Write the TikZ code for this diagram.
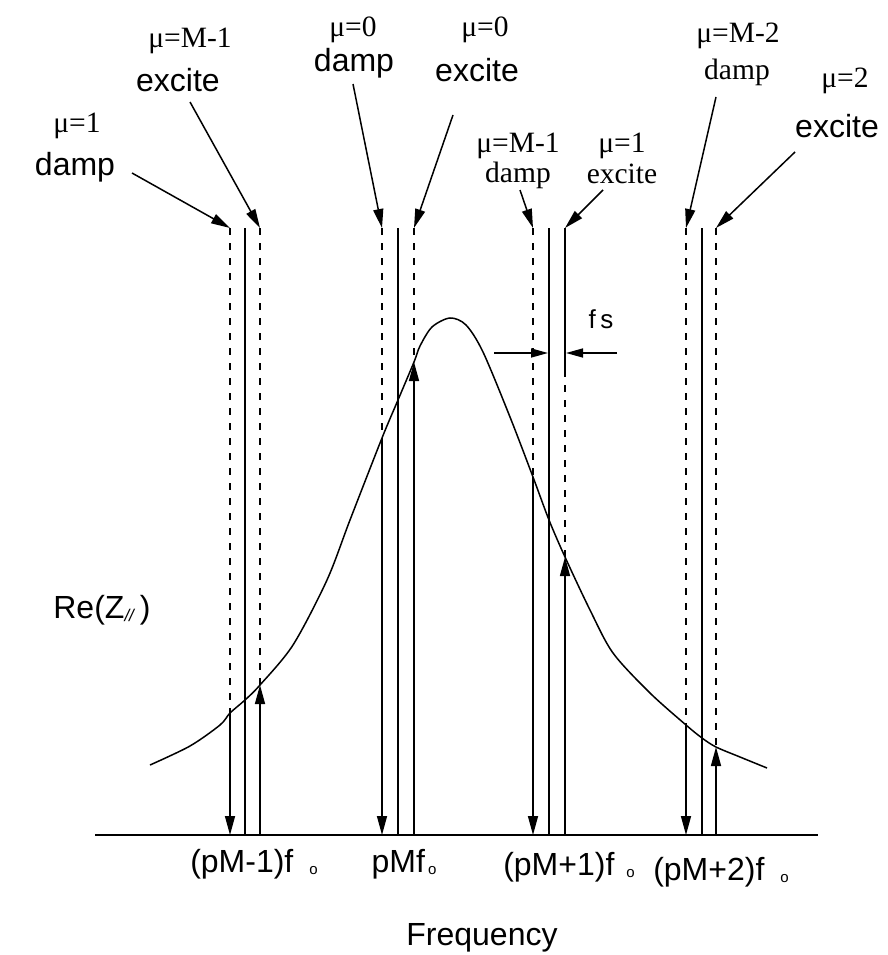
\documentclass[tikz,border=0pt]{standalone}
\usepackage{fontspec}
\setmainfont{Liberation Serif}
\setsansfont{Liberation Sans}
\usetikzlibrary{arrows.meta}
\tikzset{
  ln/.style={line width=1.5pt},
  axisln/.style={line width=1.8pt},
  dsh/.style={line width=2.1pt, dash pattern=on 7pt off 8pt},
  tipd/.style={-{Triangle[length=19pt,width=10pt]}},
  tipf/.style={-{Triangle[length=17pt,width=9pt]}},
  sflab/.style={font=\sffamily\fontsize{32}{35}\selectfont, inner sep=0pt, anchor=base},
  rmlab/.style={font=\fontsize{29.5}{32}\selectfont, inner sep=0pt, anchor=base},
}
\newcommand{\subo}{\raisebox{-2pt}{\fontsize{15}{15}\selectfont o}}
\begin{document}
\begin{tikzpicture}[x=1pt,y=-1pt]
\useasboundingbox (0,0) rectangle (888,955);

% axis
\coordinate (ax0) at (95,835);
\coordinate (ax1) at (818,835);
\draw[axisln] (ax0) -- (ax1);

% resonance curve
\draw[ln] plot[smooth, tension=0.5] coordinates {(150,765) (190,746) (220,725) (230,713) (245,700) (260,685) (293,645) (327,580) (350,520) (382,438) (398,400) (414,362) (420,346) (432,327) (450,318) (466,325) (483,352) (510,417) (533,477) (549,520) (565,557) (590,610) (613,653) (650,693) (686,725) (702,738) (716,747) (740,757) (767,768)};

% group coordinates: t = top, c = on curve, a = on axis
\foreach \g/\xl/\xc/\xr/\yl/\yr in {1/230/245/260/713/685, 2/382/398/414/438/362, 3/533/549/565/477/557, 4/686/702/716/725/747} {
  \coordinate (t\g l) at (\xl,228);
  \coordinate (c\g l) at (\xl,\yl);
  \coordinate (a\g l) at (\xl,835);
  \coordinate (t\g m) at (\xc,228);
  \coordinate (a\g m) at (\xc,835);
  \coordinate (t\g r) at (\xr,228);
  \coordinate (c\g r) at (\xr,\yr);
  \coordinate (a\g r) at (\xr,835);
}
\coordinate (k3r) at (565,370);

% group 1
\draw[dsh] (t1l) -- (c1l);
\draw[ln,tipd] (c1l) -- (a1l);
\draw[ln] (t1m) -- (a1m);
\draw[dsh] (t1r) -- (c1r);
\draw[ln,tipd] (a1r) -- (c1r);
% group 2
\draw[dsh] (t2l) -- (c2l);
\draw[ln,tipd] (c2l) -- (a2l);
\draw[ln] (t2m) -- (a2m);
\draw[dsh] (t2r) -- (c2r);
\draw[ln,tipd] (a2r) -- (c2r);
% group 3
\draw[dsh] (t3l) -- (c3l);
\draw[ln,tipd] (c3l) -- (a3l);
\draw[ln] (t3m) -- (a3m);
\draw[ln] (t3r) -- (k3r);
\draw[dsh] (k3r) -- (c3r);
\draw[ln,tipd] (a3r) -- (c3r);
% group 4
\draw[dsh] (t4l) -- (c4l);
\draw[ln,tipd] (c4l) -- (a4l);
\draw[ln] (t4m) -- (a4m);
\draw[dsh] (t4r) -- (c4r);
\draw[ln,tipd] (a4r) -- (c4r);

% f_s spacing arrows
\coordinate (fsl0) at (494,353);
\coordinate (fsl1) at (548,353);
\coordinate (fsr0) at (617,353);
\coordinate (fsr1) at (566,353);
\draw[ln,tipf] (fsl0) -- (fsl1);
\draw[ln,tipf] (fsr0) -- (fsr1);
\node[font=\sffamily\fontsize{26}{28}\selectfont, inner sep=0pt, anchor=base] (fs) at (601,328) {f\,s};

% top labels
\node[rmlab] (l1a) at (77,132) {μ=1};
\node[sflab] (l1b) at (75,175) {damp};
\node[rmlab] (l2a) at (190,48) {μ=M-1};
\node[sflab] (l2b) at (178,92) {excite};
\node[rmlab] (l3a) at (353,37) {μ=0};
\node[sflab] (l3b) at (354,72) {damp};
\node[rmlab] (l4a) at (485,37) {μ=0};
\node[sflab] (l4b) at (477,82) {excite};
\node[rmlab] (l5a) at (518,152) {μ=M-1};
\node[rmlab] (l5b) at (518,182) {damp};
\node[rmlab] (l6a) at (622,152) {μ=1};
\node[rmlab] (l6b) at (622,183) {excite};
\node[rmlab] (l7a) at (738,43) {μ=M-2};
\node[rmlab] (l7b) at (737,80) {damp};
\node[rmlab] (l8a) at (845,88) {μ=2};
\node[sflab] (l8b) at (837,137) {excite};

% label arrows
\coordinate (s1) at (132,173);
\coordinate (s2) at (190,102);
\coordinate (s3) at (353,84);
\coordinate (s4) at (453,115);
\coordinate (s5) at (520,190);
\coordinate (s6) at (603,190);
\coordinate (s7) at (716,97);
\coordinate (s8) at (795,152);
\draw[ln,tipd] (s1) -- (t1l);
\draw[ln,tipd] (s2) -- (t1r);
\draw[ln,tipd] (s3) -- (t2l);
\draw[ln,tipd] (s4) -- (t2r);
\draw[ln,tipd] (s5) -- (t3l);
\draw[ln,tipd] (s6) -- (t3r);
\draw[ln,tipd] (s7) -- (t4l);
\draw[ln,tipd] (s8) -- (t4r);

% axis labels
\node[sflab] (b1) at (254,872) {(pM-1)f\hspace{16pt}\subo};
\node[sflab] (b2) at (404,872) {pMf\hspace{3pt}\subo};
\node[sflab] (b3) at (569,875) {(pM+1)f\hspace{12pt}\subo};
\node[sflab] (b4) at (721,880) {(pM+2)f\hspace{16pt}\subo};
\node[sflab] (ylab) at (102,618) {Re(Z\raisebox{-3pt}{\fontsize{17}{17}\selectfont\itshape //}\hspace{6pt})};
\node[sflab] (xlab) at (482,945) {Frequency};
\end{tikzpicture}
\end{document}
